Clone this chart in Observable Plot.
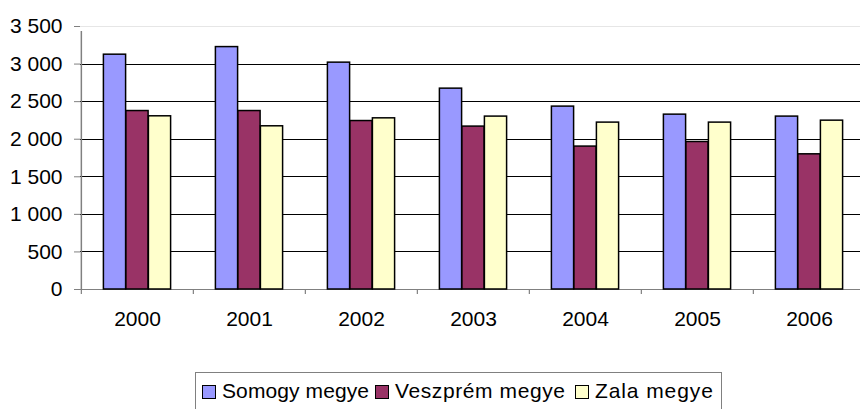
<!DOCTYPE html>
<html>
<head>
<meta charset="utf-8">
<script src="https://cdn.jsdelivr.net/npm/d3@7"></script>
<script src="https://cdn.jsdelivr.net/npm/@observablehq/plot@0.6"></script>
<style>
  html, body { margin: 0; padding: 0; background: #fff; width: 860px; height: 409px; overflow: hidden; }
  body { position: relative; font-family: "Liberation Sans", Arial, sans-serif; }
  #chart { position: absolute; left: 0; top: 0; }
  #legend {
    position: absolute; left: 195px; top: 372px; width: 527px; height: 44px;
    border: 1px solid #808080; box-sizing: border-box;
    display: flex; align-items: flex-start; padding-top: 6px; padding-left: 6px;
    font-size: 21px; color: #000; white-space: nowrap;
  }
  .item { display: flex; align-items: center; }
  .sw { width: 14px; height: 14px; border: 1px solid #000; box-sizing: border-box; margin-right: 6px; margin-top: 2px; flex: none; }
</style>
</head>
<body>
<div id="chart"></div>
<div id="legend"></div>
<script>
const years = ["2000", "2001", "2002", "2003", "2004", "2005", "2006"];
const seriesNames = ["Somogy megye", "Veszprém megye", "Zala megye"];
const somogy   = [3125, 3226, 3019, 2673, 2434, 2327, 2301];
const veszprem = [2375, 2375, 2242, 2168, 1902, 1963, 1799];
const zala     = [2305, 2172, 2278, 2301, 2221, 2221, 2247];
const colors = ["#9999FF", "#993366", "#FFFFCC"];
const yTicks = [0, 500, 1000, 1500, 2000, 2500, 3000, 3500];

const seriesValues = [somogy, veszprem, zala];
const rows = [];
seriesNames.forEach((s, si) => years.forEach((y, yi) => rows.push({year: y, series: s, value: seriesValues[si][yi]})));

const fmt = d3.formatLocale({decimal: ",", thousands: " ", grouping: [3], currency: ["", ""]}).format(",");

const band = 112.3;
const bw = 22.5;
const lead = (band - 3 * bw) / 2;

const barMarks = seriesNames.map((s, i) => Plot.barY(rows.filter(r => r.series === s), {
  x: "year", y: "value", fill: colors[i], stroke: "#000", strokeWidth: 1.5,
  insetLeft: lead + i * bw, insetRight: band - lead - (i + 1) * bw
}));

const chart = Plot.plot({
  width: 860,
  height: 360,
  marginLeft: 80,
  marginRight: 0,
  marginTop: 26,
  marginBottom: 71,
  style: {fontFamily: "'Liberation Sans', Arial, sans-serif", fontSize: "21px", color: "#000", background: "#fff"},
  x: {domain: years, range: [80, 80 + band * years.length], padding: 0},
  y: {domain: [0, 3500], range: [289, 26]},
  marks: [
    Plot.ruleY(yTicks.filter(t => t > 0 && t < 3500), {stroke: "#000", strokeWidth: 1, shapeRendering: "crispEdges"}),
    Plot.ruleY([3500], {stroke: "#e6e6e6", strokeWidth: 1, shapeRendering: "crispEdges"}),
    Plot.ruleY([0], {stroke: "#808080", strokeWidth: 1.2, shapeRendering: "crispEdges"}),
    ...barMarks,
    Plot.ruleX(years, {x: d => d, dx: -band / 2, y1: 0, y2: 0, insetBottom: -5, stroke: "#808080", strokeWidth: 1.2}),
    Plot.ruleX(years.slice(0, 1), {x: d => d, dx: -band / 2, y1: 0, y2: 3500, insetBottom: -5, stroke: "#808080", strokeWidth: 1.5}),
    Plot.axisY({ticks: yTicks, tickFormat: fmt, tickSize: 6, tickPadding: 12, stroke: "#808080", fill: "#000", fontSize: 21, label: null}),
    Plot.axisX({tickSize: 0, tickPadding: 22, fill: "#000", fontSize: 21, label: null})
  ]
});
document.getElementById("chart").appendChild(chart);

const legend = document.getElementById("legend");
const itemWidths = ["173px", "200px", "auto"];
const spacing = ["0.1px", "0.6px", "0.9px"];
seriesNames.forEach((s, i) => {
  const it = document.createElement("div");
  it.className = "item";
  it.style.width = itemWidths[i];
  const sw = document.createElement("div");
  sw.className = "sw";
  sw.style.background = colors[i];
  const tx = document.createElement("span");
  tx.textContent = s;
  tx.style.letterSpacing = spacing[i];
  it.appendChild(sw);
  it.appendChild(tx);
  legend.appendChild(it);
});
</script>
</body>
</html>
